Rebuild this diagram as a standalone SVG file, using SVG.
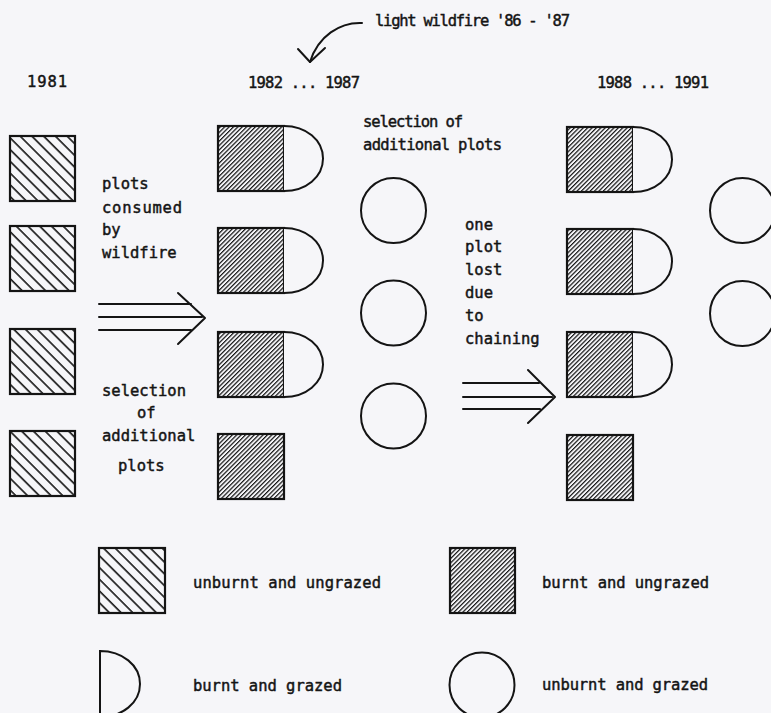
<svg xmlns="http://www.w3.org/2000/svg" width="771" height="713" viewBox="0 0 771 713">
<style>
.t{font-family:"DejaVu Sans Mono","Liberation Mono",monospace;font-size:15.5px;fill:#141414;stroke:#141414;stroke-width:0.45px;}
.o{fill:none;stroke:#141414;stroke-width:2;}
.u{fill:url(#hatchU);stroke:#141414;stroke-width:2.2;}
.b{fill:url(#hatchB);stroke:#141414;stroke-width:2.2;}
.w{fill:#f6f6f9;stroke:#141414;stroke-width:2;}
.c{fill:none;stroke:#141414;stroke-width:2;stroke-linecap:round;stroke-linejoin:round;}
</style>
<defs>
<pattern id="hatchU" patternUnits="userSpaceOnUse" width="8.3" height="10" patternTransform="rotate(-45)">
<line x1="1" y1="0" x2="1" y2="10" stroke="#141414" stroke-width="1.6"/>
</pattern>
<pattern id="hatchB" patternUnits="userSpaceOnUse" width="3.1" height="10" patternTransform="rotate(45)">
<line x1="0.6" y1="0" x2="0.6" y2="10" stroke="#141414" stroke-width="1.2"/>
</pattern>
<symbol id="dshape" overflow="visible">
<path d="M0,0 C22,0 39,14 39,32.5 C39,51 22,65 0,65" class="w"/>
</symbol>
</defs>
<rect x="0" y="0" width="771" height="713" fill="#f6f6f9"/>

<g id="labels">
<text class="t" x="375" y="26" textLength="195" lengthAdjust="spacing">light wildfire '86 - '87</text>
<text class="t" x="27" y="87" textLength="40" lengthAdjust="spacing">1981</text>
<text class="t" x="248" y="88" textLength="112" lengthAdjust="spacing">1982 ... 1987</text>
<text class="t" x="597" y="88" textLength="112" lengthAdjust="spacing">1988 ... 1991</text>
<text class="t" x="363" y="127" textLength="100" lengthAdjust="spacing">selection of</text>
<text class="t" x="363" y="150" textLength="139" lengthAdjust="spacing">additional plots</text>
<text class="t" x="102" y="189">plots</text>
<text class="t" x="102" y="213" textLength="80" lengthAdjust="spacing">consumed</text>
<text class="t" x="102" y="235">by</text>
<text class="t" x="102" y="258">wildfire</text>
<text class="t" x="465" y="230">one</text>
<text class="t" x="465" y="252">plot</text>
<text class="t" x="465" y="275">lost</text>
<text class="t" x="465" y="298">due</text>
<text class="t" x="465" y="321">to</text>
<text class="t" x="465" y="344">chaining</text>
<text class="t" x="102" y="396">selection</text>
<text class="t" x="137" y="418">of</text>
<text class="t" x="102" y="441">additional</text>
<text class="t" x="118" y="471">plots</text>
</g>

<g id="connectors">
<path class="c" d="M362,23 C340,22 318,36 310,62"/>
<path class="c" d="M298,49 L310,62 L325,48"/>
<path class="c" d="M99,304 H191 M99,317 H202 M99,330 H191 M178,293 L205,318 L178,344"/>
<path class="c" d="M463,383 H539 M463,397 H552 M463,409 H540 M528,370 L555,397 L528,423"/>
</g>

<g id="col1">
<rect id="n1a" class="u" x="10" y="136" width="65" height="65"/>
<rect id="n1b" class="u" x="10" y="226" width="65" height="65"/>
<rect id="n1c" class="u" x="10" y="329" width="65" height="65"/>
<rect id="n1d" class="u" x="10" y="431" width="65" height="65"/>
</g>

<g id="col2">
<g id="n2a"><rect class="b" x="218" y="126" width="66" height="65"/><use href="#dshape" x="284" y="126"/></g>
<g id="n2b"><rect class="b" x="218" y="228" width="66" height="65"/><use href="#dshape" x="284" y="228"/></g>
<g id="n2c"><rect class="b" x="218" y="332" width="66" height="65"/><use href="#dshape" x="284" y="332"/></g>
<g id="n2d"><rect class="b" x="218" y="434" width="66" height="65"/></g>
</g>

<g id="col3">
<circle id="n3a" class="o" cx="393.5" cy="210.5" r="32.5"/>
<circle id="n3b" class="o" cx="393.5" cy="313" r="32.5"/>
<circle id="n3c" class="o" cx="393.5" cy="416" r="32.5"/>
</g>

<g id="col4">
<g id="n4a"><rect class="b" x="567" y="127" width="66" height="65"/><use href="#dshape" x="633" y="127"/></g>
<g id="n4b"><rect class="b" x="567" y="229" width="66" height="65"/><use href="#dshape" x="633" y="229"/></g>
<g id="n4c"><rect class="b" x="567" y="332" width="66" height="65"/><use href="#dshape" x="633" y="332"/></g>
<g id="n4d"><rect class="b" x="567" y="435" width="66" height="65"/></g>
</g>

<g id="col5">
<circle id="n5a" class="o" cx="742.5" cy="210.5" r="32.5"/>
<circle id="n5b" class="o" cx="742.5" cy="313.5" r="32.5"/>
</g>

<g id="legend">
<g id="leg-unburnt-ungrazed"><rect class="u" x="99" y="548" width="66" height="65"/><text class="t" x="193" y="588" textLength="188" lengthAdjust="spacing">unburnt and ungrazed</text></g>
<g id="leg-burnt-ungrazed"><rect class="b" x="450" y="548" width="65" height="65"/><text class="t" x="542" y="588" textLength="167" lengthAdjust="spacing">burnt and ungrazed</text></g>
<g id="leg-burnt-grazed"><path class="o" d="M100,651 C122,651 140,665 140,684 C140,703 122,717 100,717 Z"/><text class="t" x="193" y="691" textLength="149" lengthAdjust="spacing">burnt and grazed</text></g>
<g id="leg-unburnt-grazed"><circle class="o" cx="482" cy="685" r="32.5"/><text class="t" x="542" y="690" textLength="166" lengthAdjust="spacing">unburnt and grazed</text></g>
</g>
</svg>
